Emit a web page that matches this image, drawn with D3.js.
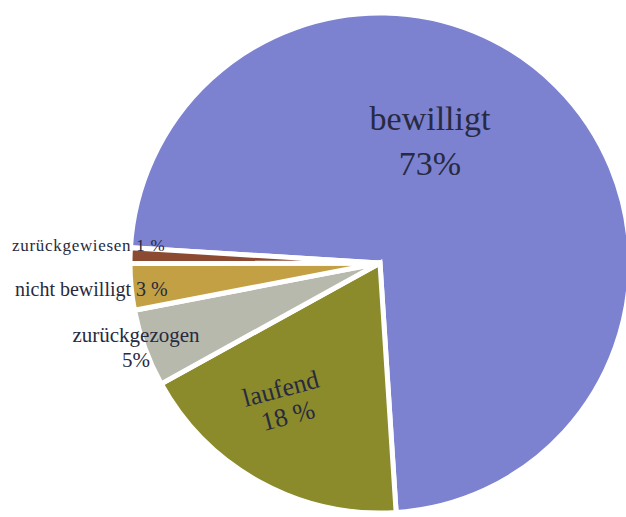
<!doctype html>
<html>
    <head>
        <meta charset="utf-8">
        <title>Anträge</title>
        <script src="https://d3js.org/d3.v7.min.js"></script>
        <style>
            body { margin: 0; background: #fff; }
            text {
                font-family: "Liberation Serif", "DejaVu Serif", serif;
                fill: #272a40;
            }
        </style>
    </head>
    <body>
        <div id="chart"></div>
        <script>
            const categories = ["bewilligt", "laufend", "zurückgezogen", "nicht bewilligt", "zurückgewiesen"];
            const values = [73, 18, 5, 3, 1];
            const valueLabels = ["73%", "18 %", "5%", "3 %", "1 %"];
            const colors = ["#7c82d0", "#8b8b2b", "#b8b9ad", "#c3a043", "#8c4a32"];

            const w = 626;
            const h = 517;
            const cx = 380, cy = 263;
            const radius = 250;

            const svg = d3.select("#chart")
                          .append("svg")
                          .attr("width", w)
                          .attr("height", h);

            const g = svg.append("g")
                         .attr("transform", "translate(" + cx + "," + cy + ")");

            // blue slice starts a little above the left horizontal
            const start = -86.5 * Math.PI / 180;
            const pie = d3.pie()
                          .sort(null)
                          .startAngle(start)
                          .endAngle(start + 2 * Math.PI);

            const arc = d3.arc().innerRadius(0).outerRadius(radius);

            const slices = pie(values);

            g.selectAll("path")
             .data(slices)
             .enter()
             .append("path")
             .attr("d", arc)
             .attr("fill", (d, i) => colors[i])
             .attr("stroke", "#fff")
             .attr("stroke-width", 5)
             .attr("stroke-linejoin", "miter");

            // label placement (layout only), relative to pie centre
            const labelLayout = [
                { x: 50, y: -133, size: 34, rot: 0, two: true, gap: 45, ls: 0 },
                { x: -97, y: 134, size: 26, rot: -15, two: true, gap: 28, ls: 0 },
                { x: -244, y: 79, size: 21, rot: 0, two: true, gap: 25, ls: 0 },
                { x: -365, y: 33, size: 20, rot: 0, two: false, ls: 0 },
                { x: -368, y: -12, size: 17, rot: 0, two: false, ls: 0.7 }
            ];

            slices.forEach((d, i) => {
                const l = labelLayout[i];
                const t = g.append("text")
                           .attr("transform", "translate(" + l.x + "," + l.y + ") rotate(" + l.rot + ")")
                           .attr("font-size", l.size)
                           .attr("letter-spacing", l.ls)
                           .attr("text-anchor", l.two ? "middle" : "start");
                if (l.two) {
                    t.append("tspan").attr("x", 0).attr("y", 0).text(categories[i]);
                    t.append("tspan").attr("x", 0).attr("y", l.gap).text(valueLabels[i]);
                } else {
                    t.text(categories[i] + " " + valueLabels[i]);
                }
            });
        </script>
    </body>
</html>
